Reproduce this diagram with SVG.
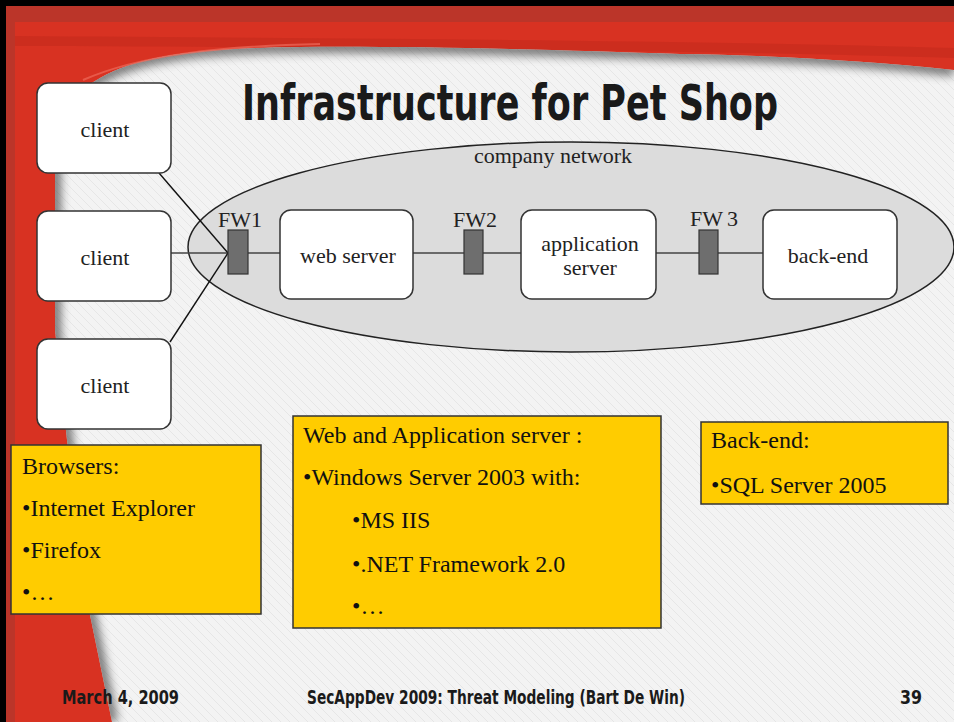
<svg xmlns="http://www.w3.org/2000/svg" width="954" height="722" viewBox="0 0 954 722">
<defs>
<style>
.lbl{font-family:"Liberation Serif","Times New Roman",serif;font-size:22px;fill:#222}
.txt{font-family:"Liberation Serif","Times New Roman",serif;font-size:24px;fill:#111}
.ttl{font-family:"DejaVu Sans Condensed","DejaVu Sans",sans-serif;font-weight:bold;fill:#1a1a1a}
.box{fill:#fff;stroke:#333;stroke-width:1.5}
.note{fill:#ffcc00;stroke:#333;stroke-width:1.5}
.fw{fill:#6e6e6e;stroke:#333;stroke-width:1.2}
.wire{stroke:#444;stroke-width:1.5;fill:none}
.diag{stroke:#111;stroke-width:1.4;fill:none}
</style>
<pattern id="tex" patternUnits="userSpaceOnUse" width="9" height="9">
<rect width="9" height="9" fill="#f3f3f3"/>
<path d="M0,0 L9,9 M-2,7 L2,11 M7,-2 L11,2" stroke="#dedede" stroke-width="0.6"/>
</pattern>
<filter id="blur" x="-10%" y="-10%" width="120%" height="120%"><feGaussianBlur stdDeviation="5"/></filter>
<clipPath id="slideClip"><path id="slideShape" d="M954,70 C860,60 760,55 680,54 C560,50 420,46 300,47 C200,48 140,55 100,78 C70,95 55,110 55,140 L55,330 L67,440 L90,615 L112,722 L954,722 Z"/></clipPath>
</defs>

<!-- frame -->
<rect x="0" y="0" width="954" height="722" fill="#d83222"/>
<rect x="6" y="6" width="948" height="16" fill="#bb3529"/>
<rect x="6" y="6" width="9" height="716" fill="#bb3529"/>
<path d="M15,36 C300,38 700,40 954,48 L954,58 C700,50 300,47 15,46 Z" fill="#c42a1c" opacity="0.6"/>
<rect x="0" y="0" width="954" height="6" fill="#000"/>
<rect x="0" y="0" width="6" height="722" fill="#000"/>
<path d="M954,70 C860,60 760,55 680,54 C560,50 420,46 300,47 C200,48 140,55 100,78 C70,95 55,110 55,140 L55,330 L67,440 L90,615 L112,722 L954,722 Z" fill="url(#tex)"/>
<g clip-path="url(#slideClip)">
<path d="M954,70 C860,60 760,55 680,54 C560,50 420,46 300,47 C200,48 140,55 100,78 C70,95 55,110 55,140 L55,330 L67,440 L90,615 L112,722" fill="none" stroke="#555" stroke-width="12" filter="url(#blur)" opacity="0.8"/>
</g>
<path d="M83,80 C140,55 220,46 320,44" fill="none" stroke="#ee6a5a" stroke-width="2" opacity="0.7"/>

<!-- title -->
<text class="ttl" x="242" y="120" font-size="50" textLength="536" lengthAdjust="spacingAndGlyphs">Infrastructure for Pet Shop</text>

<!-- company network -->
<g id="company-network">
<ellipse cx="571" cy="247" rx="383" ry="105" fill="#dcdcdc" stroke="#222" stroke-width="1.5"/>
<text class="lbl" x="553" y="163" text-anchor="middle">company network</text>
</g>

<!-- connectors -->
<g id="connectors">
<line class="wire" x1="171" y1="253" x2="228" y2="253"/>
<line class="wire" x1="248" y1="253" x2="280" y2="253"/>
<line class="wire" x1="413" y1="253" x2="464" y2="253"/>
<line class="wire" x1="483" y1="253" x2="521" y2="253"/>
<line class="wire" x1="656" y1="253" x2="699" y2="253"/>
<line class="wire" x1="718" y1="253" x2="763" y2="253"/>
<line class="diag" x1="159" y1="173" x2="228" y2="253"/>
<line class="diag" x1="170" y1="342" x2="228" y2="253"/>
</g>

<g id="client1"><rect class="box" x="37" y="83" width="134" height="90" rx="11"/><text class="lbl" x="105" y="137" text-anchor="middle">client</text></g>
<g id="client2"><rect class="box" x="37" y="211" width="134" height="90" rx="11"/><text class="lbl" x="105" y="265" text-anchor="middle">client</text></g>
<g id="client3"><rect class="box" x="37" y="339" width="134" height="90" rx="11"/><text class="lbl" x="105" y="393" text-anchor="middle">client</text></g>

<g id="fw1"><rect class="fw" x="228" y="230" width="20" height="44"/><text class="lbl" x="240" y="227" text-anchor="middle">FW1</text></g>
<g id="web-server"><rect class="box" x="280" y="210" width="133" height="89" rx="11"/><text class="lbl" x="348" y="263" text-anchor="middle">web server</text></g>
<g id="fw2"><rect class="fw" x="464" y="230" width="19" height="44"/><text class="lbl" x="475" y="227" text-anchor="middle">FW2</text></g>
<g id="app-server"><rect class="box" x="521" y="210" width="135" height="89" rx="11"/><text class="lbl" x="590" y="251" text-anchor="middle">application</text><text class="lbl" x="590" y="275" text-anchor="middle">server</text></g>
<g id="fw3"><rect class="fw" x="699" y="230" width="19" height="44"/><text class="lbl" x="690" y="226">FW<tspan dx="4">3</tspan></text></g>
<g id="back-end"><rect class="box" x="763" y="210" width="134" height="89" rx="11"/><text class="lbl" x="828" y="263" text-anchor="middle">back-end</text></g>

<g id="note-browsers">
<rect class="note" x="11" y="445" width="250" height="169"/>
<text class="txt" x="22" y="474">Browsers:</text>
<text class="txt" x="22" y="516">•Internet Explorer</text>
<text class="txt" x="22" y="558">•Firefox</text>
<text class="txt" x="22" y="600">•…</text>
</g>
<g id="note-webapp">
<rect class="note" x="293" y="416" width="368" height="212"/>
<text class="txt" x="303" y="443">Web and Application server :</text>
<text class="txt" x="303" y="485">•Windows Server 2003 with:</text>
<text class="txt" x="352" y="528">•MS IIS</text>
<text class="txt" x="352" y="572">•.NET Framework 2.0</text>
<text class="txt" x="352" y="614">•…</text>
</g>
<g id="note-backend">
<rect class="note" x="701" y="422" width="247" height="82"/>
<text class="txt" x="711" y="448">Back-end:</text>
<text class="txt" x="711" y="493">•SQL Server 2005</text>
</g>

<!-- footer -->
<text class="ttl" x="62" y="704" font-size="19" textLength="117" lengthAdjust="spacingAndGlyphs">March 4, 2009</text>
<text class="ttl" x="307" y="704" font-size="19" textLength="378" lengthAdjust="spacingAndGlyphs">SecAppDev 2009: Threat Modeling (Bart De Win)</text>
<text class="ttl" x="900" y="704" font-size="19" textLength="22" lengthAdjust="spacingAndGlyphs">39</text>
</svg>
